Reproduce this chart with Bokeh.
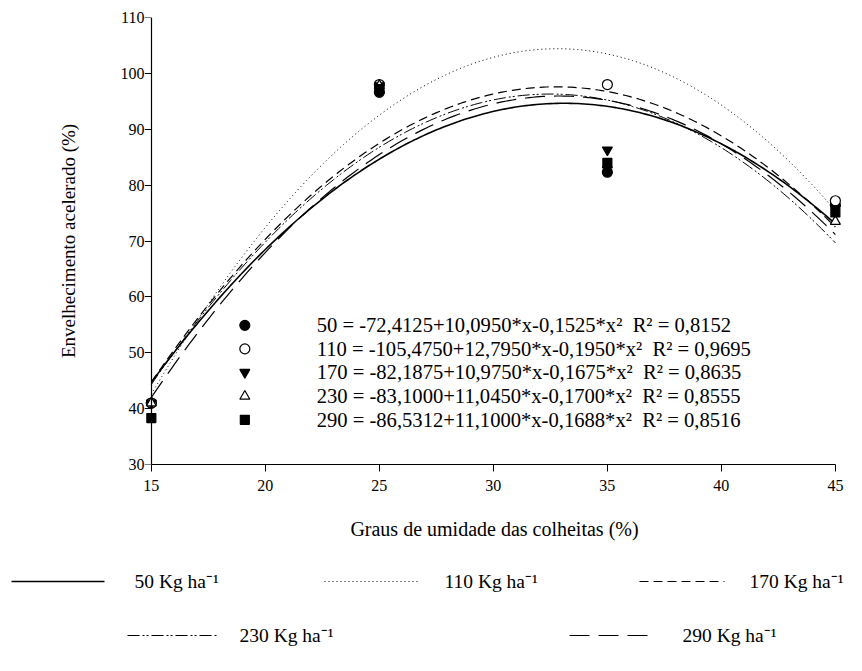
from bokeh.plotting import figure
from bokeh.models import Range1d, FixedTicker, LinearAxis
from bokeh.core.properties import value
from bokeh.embed import file_html
from bokeh.resources import INLINE
import numpy as np

# ---- data ----
x_vals = [15, 25, 35, 45]
y_50 = [41.0, 96.6, 82.3, 76.4]
y_110 = [41.0, 98.0, 98.0, 77.2]
y_170 = [41.0, 97.8, 86.3, 75.8]
y_230 = [41.0, 97.8, 83.6, 73.5]
y_290 = [38.3, 97.2, 84.0, 75.1]
# fitted quadratic coefficients (a + b*x + c*x^2) shown on the chart
coef_a = [-72.4125, -105.4750, -82.1875, -83.1000, -86.5312]
coef_b = [10.0950, 12.7950, 10.9750, 11.0450, 11.1000]
coef_c = [-0.1525, -0.1950, -0.1675, -0.1700, -0.1688]
eq_labels = [
    "50 = -72,4125+10,0950*x-0,1525*x²\u00a0 R² = 0,8152",
    "110 = -105,4750+12,7950*x-0,1950*x²\u00a0 R² = 0,9695",
    "170 = -82,1875+10,9750*x-0,1675*x²\u00a0 R² = 0,8635",
    "230 = -83,1000+11,0450*x-0,1700*x²\u00a0 R² = 0,8555",
    "290 = -86,5312+11,1000*x-0,1688*x²\u00a0 R² = 0,8516",
]
legend_labels = ["50 Kg ha⁻¹", "110 Kg ha⁻¹", "170 Kg ha⁻¹", "230 Kg ha⁻¹", "290 Kg ha⁻¹"]
x_ticks = [15, 20, 25, 30, 35, 40, 45]
y_ticks = [30, 40, 50, 60, 70, 80, 90, 100, 110]

series = [y_50, y_110, y_170, y_230, y_290]
markers = ["circle", "circle", "inverted_triangle", "triangle", "square"]
fills = ["black", "white", "black", "white", "black"]
dashes = ["solid", "1 3", "9 5", "12 3 2 2 2 3", "20 9"]
widths = [1.6, 1.0, 1.2, 1.0, 1.2]

FONT = "'Liberation Serif', 'Times New Roman', serif"

p = figure(width=860, height=552, x_range=Range1d(14.7, 45.4), y_range=Range1d(30, 110),
           output_backend="svg", toolbar_location=None,
           min_border_left=144, min_border_right=16, min_border_top=17, min_border_bottom=88)
p.outline_line_color = None
p.grid.visible = False

xa = p.xaxis[0]
xa.bounds = (15, 45)
xa.ticker = FixedTicker(ticks=x_ticks)
ya = p.yaxis[0]
ya.ticker = FixedTicker(ticks=y_ticks)
ya.axis_line_color = None
ya.major_tick_line_color = None
ya.major_tick_in = 0
ya.major_tick_out = 0
ya.major_label_standoff = 0
ya2 = LinearAxis(fixed_location=15, ticker=FixedTicker(ticks=y_ticks))
ya2.major_label_text_color = None
ya2.major_label_text_font_size = "1px"
p.add_layout(ya2, "left")

for ax in (xa, ya, ya2):
    ax.minor_tick_line_color = None
    ax.axis_label_text_font = FONT
    ax.axis_label_text_font_style = "normal"
    ax.axis_label_text_color = "black"
for ax in (xa, ya2):
    ax.axis_line_color = "black"
    ax.axis_line_width = 1.2
    ax.major_tick_line_color = "black"
    ax.major_tick_in = 0
    ax.major_tick_out = 7
for ax in (xa, ya):
    ax.major_label_text_font = FONT
    ax.major_label_text_font_size = "16px"
    ax.major_label_text_color = "black"
xa.axis_label = "Graus de umidade das colheitas (%)"
ya.axis_label = "Envelhecimento acelerado (%)"
xa.axis_label_text_font_size = "20px"
ya.axis_label_text_font_size = "19px"
xa.axis_label_standoff = 24
ya.axis_label_standoff = 39
xa.major_label_standoff = 8

xs = np.linspace(15, 45, 200)
for a, b, c, d, w in zip(coef_a, coef_b, coef_c, dashes, widths):
    p.line(xs, a + b * xs + c * xs ** 2, line_color="black", line_width=w, line_dash=d)
for ys, m, f in zip(series, markers, fills):
    p.scatter(x_vals, ys, marker=m, size=10 if m != "square" else 9,
              fill_color=f, line_color="black", line_width=1.2)

# in-plot equation key
key_y = [54.9, 50.7, 46.5, 42.2, 38.0]
for ky, m, f, eq in zip(key_y, markers, fills, eq_labels):
    p.scatter([19.1], [ky], marker=m, size=10 if m != "square" else 9,
              fill_color=f, line_color="black", line_width=1.2)
    p.text([22.25], [ky], text=[eq], text_font=value(FONT), text_font_size="20.6px",
           text_baseline="middle", text_align="left", text_color="black")

# line-style legend, drawn in its own pixel-space figure below the plot
leg = figure(width=860, height=110, x_range=Range1d(0, 860), y_range=Range1d(110, 0),
             output_backend="svg", toolbar_location=None,
             x_axis_location=None, y_axis_location=None,
             min_border_left=0, min_border_right=0, min_border_top=0, min_border_bottom=0)
leg.grid.visible = False
leg.outline_line_color = None
leg_line_x0 = [11, 324, 639, 127, 569]
leg_line_x1 = [104, 419, 724, 217, 654]
leg_text_x = [134, 444, 749, 239, 682]
leg_y = [29, 29, 29, 83, 83]
for x0, x1, tx, ly, d, w, lab in zip(leg_line_x0, leg_line_x1, leg_text_x, leg_y, dashes, widths, legend_labels):
    leg.line([x0, x1], [ly, ly], line_color="black", line_width=w, line_dash=d)
    leg.text([tx], [ly], text=[lab], text_font=value(FONT), text_font_size="19.5px",
             text_baseline="middle", text_align="left", text_color="black")

open("out.html", "w").write(file_html([p, leg], INLINE))
